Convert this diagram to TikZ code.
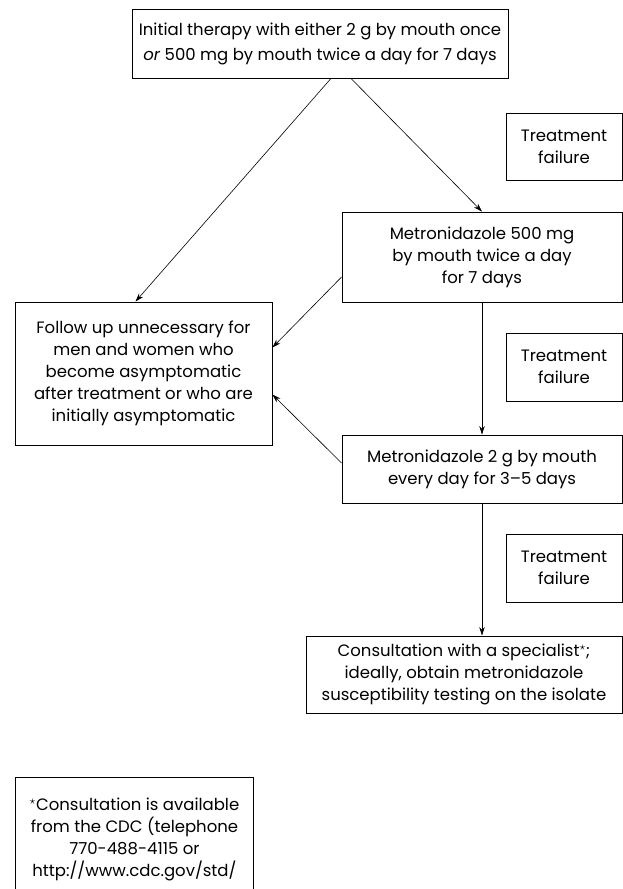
\documentclass[tikz,border=0pt]{standalone}
\usepackage{fontspec}
\setmainfont{Poppins}
\usetikzlibrary{arrows.meta}
\begin{document}
\begin{tikzpicture}[x=1pt, y=1pt,
  box/.style={draw, line width=0.9pt, align=center, inner sep=0pt,
    font=\fontsize{16.5}{22}\selectfont},
  arr/.style={-{Stealth[length=8.5pt, width=5.5pt]}, line width=0.6pt}]
\useasboundingbox (0,0) rectangle (623,-889);

\def\xl{143.5};
\def\xm{482};
\def\xf{564};

\node[box, minimum width=376, minimum height=69,
  font=\fontsize{16.5}{25}\selectfont] (init) at (320, -43.5)
  {Initial therapy with either 2 g by mouth once\\
   \textit{or} 500 mg by mouth twice a day for 7 days};
\node[box, minimum width=116, minimum height=67] (fail1) at (\xf, -146.5)
  {Treatment\\failure};
\node[box, minimum width=280, minimum height=90] (met500) at (\xm, -257)
  {Metronidazole 500 mg\\by mouth twice a day\\for 7 days};
\node[box, minimum width=257, minimum height=143] (follow) at (\xl, -373.5)
  {Follow up unnecessary for\\men and women who\\become asymptomatic\\
   after treatment or who are\\initially asymptomatic};
\node[box, minimum width=116, minimum height=68] (fail2) at (\xf, -367)
  {Treatment\\failure};
\node[box, minimum width=280, minimum height=68] (met2g) at (\xm, -469)
  {Metronidazole 2 g by mouth\\every day for 3--5 days};
\node[box, minimum width=116, minimum height=68] (fail3) at (\xf, -568)
  {Treatment\\failure};
\node[box, minimum width=316, minimum height=77] (consult) at (464, -674.5)
  {Consultation with a specialist$^\star$;\\ideally, obtain metronidazole\\
   susceptibility testing on the isolate};
% footnote box runs off the bottom edge
\node[box, minimum width=238, minimum height=142, anchor=north west] (note)
  at (15, -777)
  {$^\star$Consultation is available\\from the CDC (telephone\\
   770-488-4115 or\\http://www.cdc.gov/std/\\\mbox{}};

\draw[arr] ([xshift=11pt]init.south) -- ([xshift=-8pt]follow.north);
\draw[arr] ([xshift=31pt]init.south) -- (met500.north);
\draw[arr] ([yshift=-20pt]met500.west) -- ([yshift=26pt]follow.east);
\draw[arr] ([yshift=6pt]met2g.west) -- ([yshift=-21pt]follow.east);
\draw[arr] (met500.south) -- (met2g.north);
\draw[arr] (met2g.south) -- (met2g.south |- consult.north);
\end{tikzpicture}
\end{document}
